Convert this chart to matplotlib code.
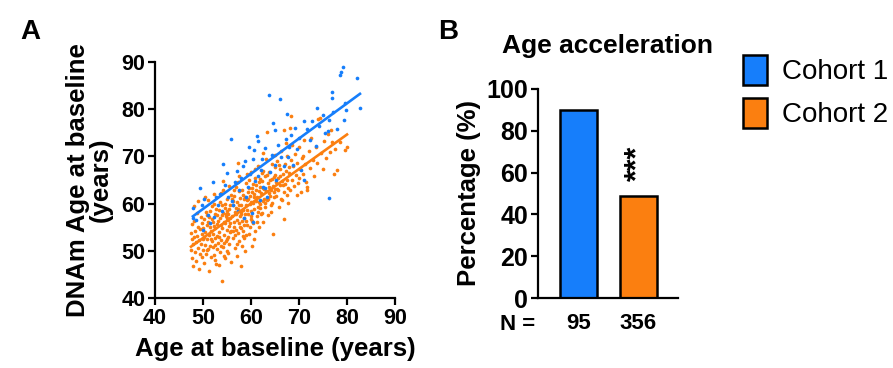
import numpy as np
import matplotlib.pyplot as plt
from matplotlib.patches import Patch

plt.rcParams['font.family'] = ['Liberation Sans', 'DejaVu Sans']
plt.rcParams['font.weight'] = 'bold'

blue = '#167efb'
orange = '#fb7f10'

# Cohort 1 scatter (age at baseline, DNAm age)
c1_age = [47.9, 47.9, 48.5, 49.4, 49.8, 50.0, 50.3, 51.0, 51.5, 52.0,
          52.3, 52.8, 53.1, 53.5, 54.0, 54.2, 54.5, 55.0, 55.2, 55.8,
          56.0, 56.3, 56.6, 57.0, 57.2, 57.5, 58.0, 58.3, 58.5, 58.8,
          59.0, 59.3, 59.6, 59.8, 60.2, 60.4, 60.5, 60.6, 60.9, 61.2,
          61.5, 61.5, 61.8, 62.0, 62.3, 62.6, 62.9, 62.9, 63.3, 63.8,
          64.0, 64.3, 64.6, 65.0, 65.0, 65.3, 65.7, 66.0, 66.2, 66.8,
          67.2, 67.5, 67.7, 68.0, 68.3, 68.8, 69.2, 69.6, 70.0, 70.5,
          71.0, 71.0, 71.6, 72.3, 72.8, 73.5, 73.8, 74.2, 74.9, 75.5,
          76.0, 76.3, 76.3, 76.9, 76.9, 77.1, 77.9, 78.5, 78.8, 79.2,
          79.4, 79.6, 79.8, 82.1, 82.7]
c1_dnam = [59.1, 57.0, 56.5, 63.4, 59.6, 54.4, 61.0, 57.5, 55.9, 64.5,
           57.2, 61.5, 59.7, 62.0, 58.4, 68.4, 64.0, 66.5, 61.5, 73.7,
           60.5, 59.7, 64.5, 67.0, 58.5, 62.8, 65.5, 68.0, 56.9, 69.0,
           61.4, 63.5, 72.0, 66.3, 58.0, 69.5, 56.1, 71.4, 64.8, 74.3,
           73.3, 65.8, 60.8, 67.2, 69.5, 63.6, 71.8, 63.3, 61.5, 83.0,
           66.8, 70.2, 77.1, 75.6, 68.2, 65.0, 72.5, 82.2, 69.8, 68.0,
           73.6, 78.9, 69.8, 72.0, 74.5, 68.1, 76.0, 71.5, 74.0, 67.2,
           77.5, 65.0, 75.8, 73.5, 77.5, 72.3, 80.3, 76.5, 78.8, 75.0,
           75.3, 77.8, 61.2, 83.6, 82.4, 79.4, 75.7, 87.2, 87.8, 88.9,
           77.8, 81.3, 79.8, 86.6, 80.3]

# Cohort 2 scatter
c2_pts = [
    (47.5, 50.2), (47.6, 53.8), (47.7, 48.5), (47.8, 55.6), (47.9, 51.4), (48.0, 46.8),
    (48.1, 52.9), (48.2, 56.3), (48.3, 49.7), (48.4, 54.2), (48.5, 51.8), (48.6, 47.9),
    (48.7, 53.1), (48.8, 58.0), (48.9, 50.6), (49.0, 55.0), (49.1, 52.2), (49.2, 46.1),
    (49.3, 54.7), (49.4, 49.3), (49.5, 57.1), (49.6, 51.5), (49.7, 53.6), (49.8, 48.7),
    (49.8, 55.9), (49.9, 52.4), (50.0, 50.1), (48.2, 59.5), (49.0, 60.6), (47.8, 52.5),
    (50.1, 54.8), (50.2, 47.5), (50.3, 56.7), (50.4, 51.2), (50.5, 53.9), (50.6, 49.4),
    (50.7, 58.3), (50.8, 52.6), (50.9, 55.4), (51.0, 50.3), (51.1, 60.8), (51.2, 45.7),
    (51.2, 53.4), (51.3, 57.2), (51.4, 51.0), (51.5, 55.1), (51.6, 48.6), (51.7, 54.3),
    (51.8, 59.4), (51.9, 52.0), (52.0, 56.0), (52.0, 50.7), (52.1, 53.5), (52.2, 62.1),
    (52.3, 55.3), (52.3, 49.2), (52.4, 57.8), (52.5, 52.8), (52.6, 54.9), (52.6, 51.3),
    (52.7, 58.9), (52.8, 47.2), (52.9, 55.7), (53.0, 53.2), (50.5, 61.4), (51.0, 56.2),
    (51.6, 52.4), (52.2, 60.0), (50.8, 50.2), (51.4, 58.5), (52.9, 50.4), (50.2, 53.0),
    (51.8, 56.8), (52.4, 48.0), (50.9, 57.6),
    (53.1, 56.4), (53.2, 51.6), (53.3, 58.7), (53.4, 54.0), (53.5, 49.8), (53.6, 60.3),
    (53.7, 55.5), (53.8, 52.3), (53.9, 57.6), (54.0, 43.6), (54.0, 54.8), (54.1, 62.9),
    (54.2, 50.8), (54.3, 56.2), (54.4, 53.3), (54.5, 59.1), (54.6, 48.4), (54.6, 55.8),
    (54.7, 57.9), (54.8, 52.1), (54.9, 61.0), (55.0, 54.5), (55.0, 50.0), (55.1, 58.4),
    (55.2, 56.6), (55.3, 53.0), (55.4, 63.8), (55.5, 55.2), (55.5, 51.4), (55.6, 59.7),
    (55.7, 57.0), (55.8, 47.6), (55.9, 54.1), (56.0, 60.9), (53.3, 47.0), (53.6, 56.9),
    (53.8, 62.2), (54.1, 58.0), (54.3, 51.7), (54.6, 60.0), (54.9, 56.9), (55.1, 52.6),
    (55.3, 57.7), (55.6, 54.0), (55.8, 61.8), (53.4, 53.0), (53.9, 59.8), (54.4, 49.0),
    (54.8, 57.4), (55.2, 49.5), (55.7, 55.9), (53.0, 57.5), (54.2, 64.8), (55.4, 58.9),
    (53.7, 51.0),
    (56.1, 57.3), (56.2, 52.8), (56.3, 59.6), (56.4, 55.1), (56.5, 61.7), (56.6, 50.6),
    (56.7, 58.2), (56.8, 54.4), (56.9, 63.5), (57.0, 56.6), (57.0, 48.9), (57.1, 60.4),
    (57.2, 53.7), (57.3, 58.9), (57.4, 55.8), (57.5, 65.8), (57.6, 52.0), (57.7, 57.4),
    (57.8, 61.2), (57.9, 54.9), (58.0, 59.7), (58.0, 46.8), (58.1, 56.3), (58.2, 62.8),
    (58.3, 53.2), (58.4, 58.6), (58.5, 60.9), (58.6, 55.5), (58.7, 49.9), (58.8, 57.9),
    (58.9, 64.3), (59.0, 56.4), (56.2, 60.5), (56.5, 56.0), (56.8, 59.0), (57.1, 51.5),
    (57.4, 62.6), (57.7, 55.0), (58.0, 57.8), (58.3, 61.9), (58.6, 52.7), (58.9, 59.6),
    (56.3, 54.2), (56.9, 57.8), (57.3, 64.6), (57.9, 58.3), (58.4, 54.3), (58.8, 61.5),
    (56.4, 62.8), (57.6, 59.7), (58.2, 51.1), (56.7, 53.4), (57.2, 68.5), (58.5, 56.9),
    (59.0, 53.3),
    (59.1, 60.7), (59.2, 55.4), (59.3, 62.5), (59.4, 57.8), (59.5, 64.9), (59.6, 53.6),
    (59.7, 59.9), (59.8, 61.6), (59.9, 56.7), (60.0, 66.8), (60.1, 58.5), (60.2, 51.0),
    (60.3, 63.2), (60.4, 60.1), (60.5, 55.9), (60.6, 62.0), (60.7, 58.8), (60.8, 65.5),
    (60.9, 54.3), (61.0, 60.6), (61.1, 63.9), (61.2, 57.4), (61.3, 61.3), (61.4, 68.0),
    (61.5, 59.2), (61.6, 55.1), (61.7, 62.7), (61.8, 60.0), (61.9, 65.2), (62.0, 57.9),
    (59.2, 58.6), (59.6, 63.4), (60.0, 57.3), (60.4, 64.2), (60.6, 52.5), (61.0, 62.9),
    (61.4, 58.3), (61.8, 63.6), (59.4, 61.0), (59.9, 60.3), (60.3, 56.4), (60.9, 67.4),
    (61.3, 56.0), (61.7, 60.4), (59.7, 55.0), (60.7, 61.3), (61.6, 64.6), (59.1, 66.3),
    (60.2, 62.4), (61.9, 59.1),
    (62.1, 62.3), (62.2, 58.0), (62.3, 64.7), (62.4, 60.5), (62.5, 67.0), (62.6, 56.2),
    (62.7, 63.0), (62.8, 61.0), (62.9, 65.8), (63.0, 59.3), (63.1, 62.6), (63.2, 69.4),
    (63.3, 75.2), (63.4, 60.8), (63.5, 64.3), (63.6, 57.6), (63.7, 63.5), (63.8, 66.6),
    (63.9, 61.7), (64.0, 64.9), (64.1, 59.7), (64.2, 62.9), (64.3, 68.3), (64.4, 60.2),
    (64.5, 63.8), (64.6, 53.6), (64.7, 65.6), (64.8, 61.4), (64.9, 67.7), (65.0, 63.1),
    (62.4, 63.4), (62.9, 60.1), (63.3, 66.1), (63.8, 62.2), (64.2, 58.2), (64.7, 62.5),
    (62.6, 70.8), (63.5, 61.0), (64.4, 65.3), (62.2, 66.4),
    (65.1, 66.0), (65.2, 61.6), (65.3, 64.5), (65.5, 69.0), (65.6, 62.8), (65.7, 65.4),
    (65.8, 59.3), (66.0, 67.3), (66.1, 63.9), (66.2, 71.2), (66.4, 64.8), (66.5, 60.7),
    (66.6, 66.2), (66.8, 62.4), (66.9, 75.6), (66.9, 56.7), (67.0, 68.4), (67.1, 64.2),
    (67.3, 66.9), (67.4, 61.8), (67.5, 70.1), (67.6, 65.1), (67.8, 63.3), (67.9, 67.8),
    (65.4, 63.0), (65.9, 68.1), (66.3, 61.0), (66.7, 64.0), (67.2, 72.8), (67.7, 60.2),
    (65.0, 70.3), (66.0, 65.8),
    (68.0, 66.5), (68.1, 76.0), (68.2, 62.9), (68.3, 78.6), (68.4, 69.2), (68.6, 65.0),
    (68.8, 67.9), (69.0, 63.7), (69.2, 70.6), (69.4, 66.1), (69.6, 68.5), (69.8, 64.4),
    (70.0, 71.9), (70.2, 67.4), (70.4, 62.5), (70.6, 69.7), (70.8, 66.3), (71.0, 73.4),
    (68.5, 72.4), (69.5, 61.8), (70.1, 65.5), (70.9, 70.0),
    (71.2, 68.4), (71.5, 64.6), (71.7, 62.9), (71.7, 63.6), (72.0, 71.2), (72.3, 67.5),
    (72.6, 73.8), (72.9, 69.3), (73.2, 65.9), (73.5, 72.0), (73.8, 68.6), (74.0, 77.9),
    (74.4, 78.1), (74.6, 70.8), (75.0, 67.4), (75.3, 73.2), (75.7, 69.6), (76.0, 74.7),
    (76.4, 71.0), (76.7, 75.6), (76.9, 73.0),
    (77.3, 66.3), (77.5, 71.6), (77.9, 67.1), (78.5, 73.0), (79.6, 71.4), (80.0, 72.0),
]
c2_age = [p[0] for p in c2_pts]
c2_dnam = [p[1] for p in c2_pts]

# Panel B
cohorts = ['Cohort 1', 'Cohort 2']
pct_accel = [90, 49]
n_labels = ['95', '356']

fig = plt.figure(figsize=(8.93, 3.68), dpi=100)

# ---- Panel A ----
axA = fig.add_axes([155 / 893, 70 / 368, 240 / 893, 236 / 368])
for ages, dnam, col in [(c2_age, c2_dnam, orange), (c1_age, c1_dnam, blue)]:
    axA.scatter(ages, dnam, s=7, color=col, linewidths=0, zorder=2)
for ages, dnam, col in [(c1_age, c1_dnam, blue), (c2_age, c2_dnam, orange)]:
    k, b = np.polyfit(ages, dnam, 1)
    xs = np.array([min(ages), max(ages)])
    axA.plot(xs, k * xs + b, color=col, lw=1.9, zorder=3)

axA.set_xlim(40, 90)
axA.set_ylim(40, 90)
axA.set_xticks(range(40, 91, 10))
axA.set_yticks(range(40, 91, 10))
axA.set_xlabel('Age at baseline (years)', fontsize=18.5, fontweight='bold', labelpad=6)
axA.set_ylabel('DNAm Age at baseline\n(years)', fontsize=18.5, fontweight='bold',
               labelpad=6, linespacing=0.95)

# ---- Panel B ----
axB = fig.add_axes([538 / 893, 70 / 368, 140 / 893, 209 / 368])
axB.bar([0, 1], pct_accel, width=0.62, color=[blue, orange], edgecolor='black',
        linewidth=1.8, zorder=2)
axB.set_xlim(-0.68, 1.67)
axB.set_ylim(0, 100)
axB.set_yticks(range(0, 101, 20))
axB.set_xticks([0, 1])
axB.set_xticklabels(n_labels)
axB.text(-1.02, -0.075, 'N =', transform=axB.get_xaxis_transform(), ha='center',
         va='top', fontsize=16, fontweight='bold', clip_on=False)
axB.text(1, 56, '***', rotation=90, ha='center', va='bottom', fontsize=22,
         fontweight='bold')
axB.set_ylabel('Percentage (%)', fontsize=18.5, fontweight='bold', labelpad=4)
axB.set_title('Age acceleration', fontsize=19, fontweight='bold', pad=26)

for ax in (axA, axB):
    for side in ('top', 'right'):
        ax.spines[side].set_visible(False)
    for side in ('left', 'bottom'):
        ax.spines[side].set_linewidth(1.6)
    ax.tick_params(width=1.6, length=5, pad=2)
    for lab in ax.get_xticklabels() + ax.get_yticklabels():
        lab.set_fontweight('bold')
axA.tick_params(labelsize=15.5)
axB.tick_params(axis='y', labelsize=18)
axB.tick_params(axis='x', length=0, pad=11, labelsize=16)

fig.text(30 / 893, 1 - 32 / 368, 'A', fontsize=20, fontweight='bold', ha='center', va='center')
fig.text(448 / 893, 1 - 32 / 368, 'B', fontsize=20, fontweight='bold', ha='center', va='center')

handles = [Patch(facecolor=blue, edgecolor='black', linewidth=1.8),
           Patch(facecolor=orange, edgecolor='black', linewidth=1.8)]
leg = fig.legend(handles, cohorts, loc='upper left', bbox_to_anchor=(743 / 893, 1 - 55 / 368),
                 frameon=False, handlelength=0.85, handleheight=1.3, handletextpad=0.55,
                 labelspacing=0.45, borderpad=0, borderaxespad=0,
                 prop={'size': 20, 'weight': 'normal'})

fig.savefig('out.png', dpi=100)
